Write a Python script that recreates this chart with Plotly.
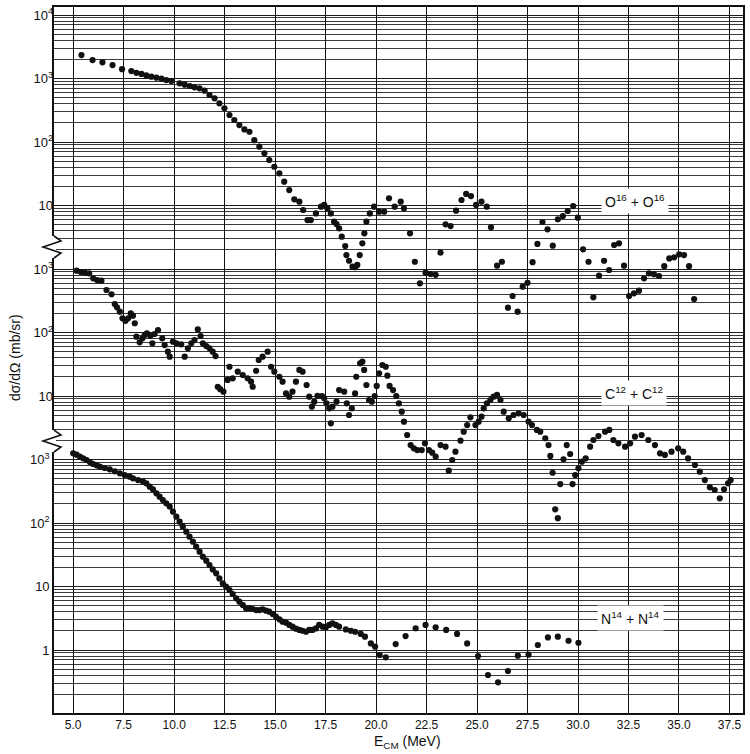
import plotly.graph_objects as go

# ---- values: E_cm (MeV) vs dσ/dΩ (mb/sr) ----
o16_e = [5.41, 5.96, 6.45, 6.95, 7.42,
         7.88, 8.13, 8.38, 8.62, 8.87, 9.12, 9.37, 9.61, 9.86,
         10.27, 10.52, 10.77, 11.01, 11.26, 11.51, 11.75, 12.00, 12.24, 12.49, 12.74, 12.98, 13.23, 13.48, 13.73,
         13.97, 14.22, 14.47, 14.71, 14.96, 15.21, 15.45, 15.70, 15.95, 16.20,
         16.39, 16.60, 16.77, 17.02, 17.27, 17.43, 17.59, 17.76, 17.92, 18.04, 18.17, 18.30,
         18.47, 18.53, 18.66, 18.83, 18.96, 19.07, 19.19, 19.32, 19.42,
         19.52, 19.69, 19.90, 20.15, 20.40, 20.64, 20.92, 21.22, 21.38, 21.68,
         21.92, 22.17, 22.45, 22.70, 22.95, 23.19,
         23.44, 23.69, 23.96,
         24.23, 24.46, 24.70, 24.95, 25.22, 25.48, 25.69, 25.99, 26.23, 26.53, 26.76, 27.01, 27.26,
         27.50, 27.75, 27.99, 28.24, 28.49, 28.75, 29.00, 29.25, 29.49, 29.76, 29.99, 30.25, 30.52,
         30.76, 31.04, 31.29, 31.54, 31.79, 32.03, 32.28, 32.53, 32.77, 33.02, 33.27, 33.51, 33.76,
         34.01, 34.27, 34.52, 34.76, 35.01, 35.25, 35.50, 35.75]
o16_xs = [2340, 1950, 1800, 1630, 1400,
          1310, 1230, 1180, 1120, 1070, 1030, 993, 946, 914,
          840, 798, 762, 726, 701, 643, 550, 488, 406, 340, 266, 222, 185, 158, 145,
          107, 84.3, 66.4, 52.1, 40.8, 32.1, 23.7, 17.5, 12.5, 11.5,
          8.5, 5.9, 5.9, 7.5, 9.6, 10.2, 9.0, 7.5, 5.56, 5.1, 4.37, 3.23,
          2.30, 1.66, 1.35, 1.09, 1.07, 1.16, 1.66, 2.54, 3.65,
          5.56, 7.5, 9.6, 8.0, 8.0, 13.0, 9.6, 11.5, 9.0, 3.65,
          1.30, 0.595, 0.875, 0.834, 0.81, 1.81,
          5.06, 4.75, 8.3,
          12.2, 15.2, 14.1, 10.2, 11.5, 9.6, 4.54, 1.13, 1.30, 0.246, 0.376, 0.213, 0.526,
          0.608, 1.28, 2.48, 5.5, 4.22, 2.33, 6.07, 6.84, 8.2, 9.8, 6.43, 2.04, 1.30,
          0.358, 0.785, 1.35, 0.964, 2.39, 2.54, 1.13, 0.376, 0.414, 0.455, 0.714, 0.855, 0.83,
          0.776, 1.11, 1.47, 1.53, 1.70, 1.66, 1.11, 0.337]

c12_e = [5.17, 5.38, 5.58, 5.79, 5.99, 6.19, 6.40, 6.65, 6.90, 7.06,
         7.17, 7.31, 7.44, 7.59, 7.72, 7.85, 7.96, 8.05, 8.13, 8.29,
         8.43, 8.54, 8.65, 8.82, 8.92, 9.03, 9.20, 9.41, 9.53, 9.69,
         9.78, 9.94, 10.11, 10.35, 10.52, 10.68, 10.85, 11.01, 11.17, 11.31,
         11.42, 11.59, 11.75, 11.91, 12.05,
         12.16, 12.28, 12.44, 12.65, 12.74, 12.90, 13.15, 13.40, 13.64, 13.81,
         13.89, 14.06, 14.19, 14.38, 14.63, 14.80, 14.96, 15.21, 15.37, 15.54,
         15.70, 15.86, 16.03, 16.20, 16.36, 16.56, 16.69, 16.82, 16.94, 17.10,
         17.32, 17.43, 17.54, 17.68, 17.76, 17.84, 18.04, 18.17, 18.42, 18.55,
         18.66, 18.80, 18.96, 19.02, 19.21, 19.32, 19.41, 19.52, 19.65, 19.79,
         19.93, 20.03, 20.15, 20.31, 20.48, 20.56, 20.67, 20.84, 21.00, 21.13,
         21.27, 21.38, 21.54, 21.71, 21.87, 22.04, 22.26, 22.42, 22.62, 22.78,
         22.95, 23.19, 23.44, 23.60, 23.77, 23.93, 24.18, 24.34, 24.51, 24.67,
         24.92, 25.08, 25.22, 25.33, 25.49, 25.66, 25.82, 25.99, 26.16, 26.32,
         26.57, 26.81, 27.06, 27.31, 27.55, 27.72, 27.96, 28.13, 28.38, 28.54,
         28.63, 28.74, 28.87, 29.00, 29.12, 29.28, 29.44, 29.61, 29.73, 29.86,
         30.02, 30.19, 30.38, 30.60, 30.76, 31.01, 31.34, 31.55, 31.75, 32.00,
         32.33, 32.58, 32.82, 33.15, 33.48, 33.81, 34.06, 34.30, 34.63, 34.96,
         35.21, 35.45, 35.79, 36.03, 36.28, 36.53, 36.77, 37.02, 37.23, 37.43,
         37.56]
c12_xs = [940, 897, 875, 855, 714, 671, 655, 467, 400, 281,
          249, 213, 167, 153, 167, 200, 184, 140, 85.9, 70.1,
          81.1, 91.4, 97.1, 88.1, 67.6, 94.7, 109, 81.1, 63.5, 49.9,
          41.6, 71.6, 67.6, 65.2, 41.6, 56.4, 67.6, 76.2, 112, 88.1,
          67.6, 61.3, 56.4, 49.9, 42.6,
          14.0, 12.8, 11.7, 17.9, 28.9, 19.0, 24.2, 21.4, 19.0, 16.8,
          14.0, 25.0, 36.9, 41.6, 49.9, 28.9, 24.2, 20.1, 16.8, 11.0,
          9.75, 11.7, 16.8, 25.7, 24.2, 14.9, 9.75, 6.79, 8.13, 10.1,
          10.0, 9.2, 7.67, 6.40, 3.72, 6.79, 8.13, 12.4, 11.7, 7.67,
          5.02, 6.40, 11.0, 20.1, 32.7, 34.7, 25.7, 14.9, 8.65, 8.13,
          10.0, 14.4, 22.8, 30.8, 28.9, 20.9, 14.4, 12.4, 10.0, 7.67,
          5.66, 3.94, 2.43, 1.69, 1.50, 1.41, 1.41, 1.80, 1.41, 1.28,
          1.11, 1.69, 1.59, 0.667, 0.982, 1.33, 1.98, 2.74, 3.49, 4.62,
          3.49, 3.94, 4.72, 6.40, 7.67, 8.65, 9.75, 10.4, 8.65, 5.66,
          4.45, 5.02, 5.34, 5.02, 3.94, 3.49, 2.92, 2.74, 2.16, 1.69,
          1.14, 0.619, 0.164, 0.119, 0.411, 1.01, 1.69, 1.22, 0.411, 0.570,
          0.727, 0.923, 1.04, 1.59, 2.03, 2.34, 2.74, 2.92, 2.03, 1.80,
          1.59, 1.80, 2.29, 2.43, 2.03, 1.69, 1.25, 1.18, 1.33, 1.50,
          1.33, 1.04, 0.819, 0.643, 0.475, 0.365, 0.331, 0.245, 0.340, 0.422,
          0.475]

n14_e = [5.00, 5.165, 5.33, 5.495, 5.66, 5.825, 5.99, 6.155, 6.32, 6.565,
         6.81, 7.06, 7.31, 7.55, 7.80, 7.96, 8.21, 8.46, 8.62, 8.79,
         8.95, 9.12, 9.28, 9.44, 9.61, 9.78, 9.94, 10.11, 10.27, 10.43,
         10.60, 10.76, 10.93, 11.09, 11.26, 11.42, 11.59, 11.75, 11.91, 12.08,
         12.24, 12.41, 12.57, 12.74, 12.90, 13.07, 13.23, 13.40, 13.56,
         13.73, 13.89, 14.06, 14.22, 14.38, 14.55, 14.71, 14.88, 15.04, 15.21,
         15.37, 15.54, 15.70, 15.86, 16.03, 16.20, 16.36, 16.53, 16.69, 16.85,
         17.02, 17.18, 17.35, 17.51, 17.68, 17.84, 18.01, 18.17, 18.50, 18.75,
         18.96, 19.24, 19.45, 19.74, 19.95, 20.18, 20.48,
         20.97, 21.46, 21.96, 22.45, 22.95, 23.47, 24.01, 24.51, 25.05, 25.54,
         26.04, 26.53, 27.02, 27.55, 28.01, 28.51, 29.00, 29.53, 30.02]
n14_xs = [1250, 1191, 1109, 1043, 982, 914, 849, 809, 771, 735,
          700, 651, 606, 570, 537, 505, 475, 448, 422, 373,
          339, 293, 260, 230, 204, 181, 151, 126, 105, 87.5,
          73.1, 60.9, 50.8, 42.4, 35.4, 29.5, 25.5, 21.8, 18.6, 16.1,
          13.4, 11.2, 9.94, 8.81, 7.62, 6.51, 5.77, 5.11, 4.53,
          4.53, 4.42, 4.26, 4.26, 4.37, 4.16, 4.01, 3.69, 3.35, 3.04,
          2.79, 2.69, 2.48, 2.33, 2.17, 2.07, 2.01, 1.94, 2.07, 2.07,
          2.19, 2.48, 2.33, 2.27, 2.48, 2.63, 2.48, 2.33, 2.11, 2.01,
          1.94, 1.79, 1.62, 1.27, 1.13, 0.834, 0.767,
          1.24, 1.66, 2.20, 2.48, 2.28, 2.07, 1.79, 1.27, 0.805, 0.404,
          0.310, 0.467, 0.813, 0.844, 1.20, 1.58, 1.62, 1.40, 1.30]

x_ticks = [5.0, 7.5, 10.0, 12.5, 15.0, 17.5, 20.0, 22.5, 25.0, 27.5, 30.0, 32.5, 35.0, 37.5]
x_labels = ["5.0", "7.5", "10.0", "12.5", "15.0", "17.5", "20.0", "22.5",
            "25.0", "27.5", "30.0", "32.5", "35.0", "37.5"]

# one sheet of log paper; each reaction is shifted up by 3 decades
DECADES = (-0.992, 10.126)
N14_TICKS = {1: "1", 10: "10", 100: "10<sup>2</sup>", 1000: "10<sup>3</sup>"}
C12_TICKS = {10: "10", 100: "10<sup>2</sup>", 1000: "10<sup>3</sup>"}
O16_TICKS = {10: "10", 100: "10<sup>2</sup>", 1000: "10<sup>3</sup>", 10000: "10<sup>4</sup>"}

# reaction labels: (text, E, log10 of dσ/dΩ on that sheet's axis, axis)
reaction_labels = [("O<sup>16</sup> + O<sup>16</sup>", 32.8, 1.07, "y3"),
                   ("C<sup>12</sup> + C<sup>12</sup>", 32.75, 1.045, "y2"),
                   ("N<sup>14</sup> + N<sup>14</sup>", 32.6, 0.505, "y")]

W, H = 750, 754
ML, MR, MT, MB = 54, 5, 7, 41
INK = "#111111"
FONT = "Liberation Sans, Arial, sans-serif"


def paper(px, py):
    """pixel position in the page -> paper coordinates"""
    return (px - ML) / (W - ML - MR), (H - MB - py) / (H - MT - MB)


def shifted(n):
    return [DECADES[0] - n, DECADES[1] - n]


fig = go.Figure()
dots = dict(size=6.2, color=INK, line=dict(width=0))
fig.add_trace(go.Scatter(x=n14_e, y=n14_xs, mode="markers", marker=dots, yaxis="y"))
fig.add_trace(go.Scatter(x=c12_e, y=c12_xs, mode="markers", marker=dots, yaxis="y2"))
fig.add_trace(go.Scatter(x=o16_e, y=o16_xs, mode="markers", marker=dots, yaxis="y3"))
# carrier for the log-paper grid axis
fig.add_trace(go.Scatter(x=[None], y=[None], mode="markers", yaxis="y4", hoverinfo="skip"))

label_axis = dict(type="log", side="left", showgrid=False, showline=False,
                  zeroline=False, ticks="", tickmode="array",
                  tickfont=dict(size=13, color=INK))

fig.update_layout(
    width=W, height=H,
    margin=dict(l=ML, r=MR, t=MT, b=MB),
    paper_bgcolor="white", plot_bgcolor="white",
    showlegend=False,
    font=dict(family=FONT, size=13, color=INK),
    xaxis=dict(range=[4.05, 38.17], tickmode="array", tickvals=x_ticks, ticktext=x_labels,
               showgrid=True, gridcolor=INK, gridwidth=1.4, zeroline=False,
               showline=True, linecolor=INK, linewidth=1.6, mirror=True, ticks="",
               tickfont=dict(size=12, color=INK)),
    yaxis=dict(label_axis, range=list(DECADES),
               tickvals=list(N14_TICKS), ticktext=list(N14_TICKS.values()),
               showline=True, linecolor=INK, linewidth=1.6, mirror=True),
    yaxis2=dict(label_axis, overlaying="y", range=shifted(3),
                tickvals=list(C12_TICKS), ticktext=list(C12_TICKS.values())),
    yaxis3=dict(label_axis, overlaying="y", range=shifted(6),
                tickvals=list(O16_TICKS), ticktext=list(O16_TICKS.values())),
    yaxis4=dict(type="log", overlaying="y", range=list(DECADES),
                tickmode="linear", dtick=1, showticklabels=False, ticks="",
                showgrid=True, gridcolor="#1c1c1c", gridwidth=1.3, zeroline=False,
                minor=dict(dtick="D1", showgrid=True, gridcolor="#3a3a3a",
                           gridwidth=0.9, ticks="")),
)

for text, lx, ly, yref in reaction_labels:
    fig.add_annotation(x=lx, y=ly, xref="x", yref=yref, text=text, showarrow=False,
                       font=dict(size=14, color=INK, family=FONT),
                       bgcolor="white", borderpad=3)

ax, ay = paper(15, 358)
fig.add_annotation(x=ax, y=ay, xref="paper", yref="paper", text="dσ/dΩ (mb/sr)",
                   textangle=-90, showarrow=False, xanchor="center", yanchor="middle",
                   font=dict(size=14, color=INK))
tx, ty = paper(409, 742)
fig.add_annotation(x=tx, y=ty, xref="paper", yref="paper",
                   text="E<sub>CM</sub> (MeV)", showarrow=False,
                   xanchor="center", yanchor="middle",
                   font=dict(size=14, color=INK))

# axis breaks between the three stacked sheets
for cy in (247, 441):
    x0, y0 = paper(52, cy - 11)
    x1, y1 = paper(56, cy + 11)
    fig.add_shape(type="rect", xref="paper", yref="paper", x0=x0, y0=y1, x1=x1, y1=y0,
                  fillcolor="white", line=dict(width=0), layer="above")
    pts = [paper(54, cy - 11), paper(61, cy - 6), paper(43, cy), paper(61, cy + 6), paper(54, cy + 11)]
    path = "M " + " L ".join(f"{px:.4f},{py:.4f}" for px, py in pts)
    fig.add_shape(type="path", xref="paper", yref="paper", path=path,
                  line=dict(color=INK, width=1.6), layer="above")

# the page body has a default 8px margin; drop it so the figure sits at the corner
fig.write_html("out.html", config={"displayModeBar": False},
               post_script="document.body.style.margin='0';")
